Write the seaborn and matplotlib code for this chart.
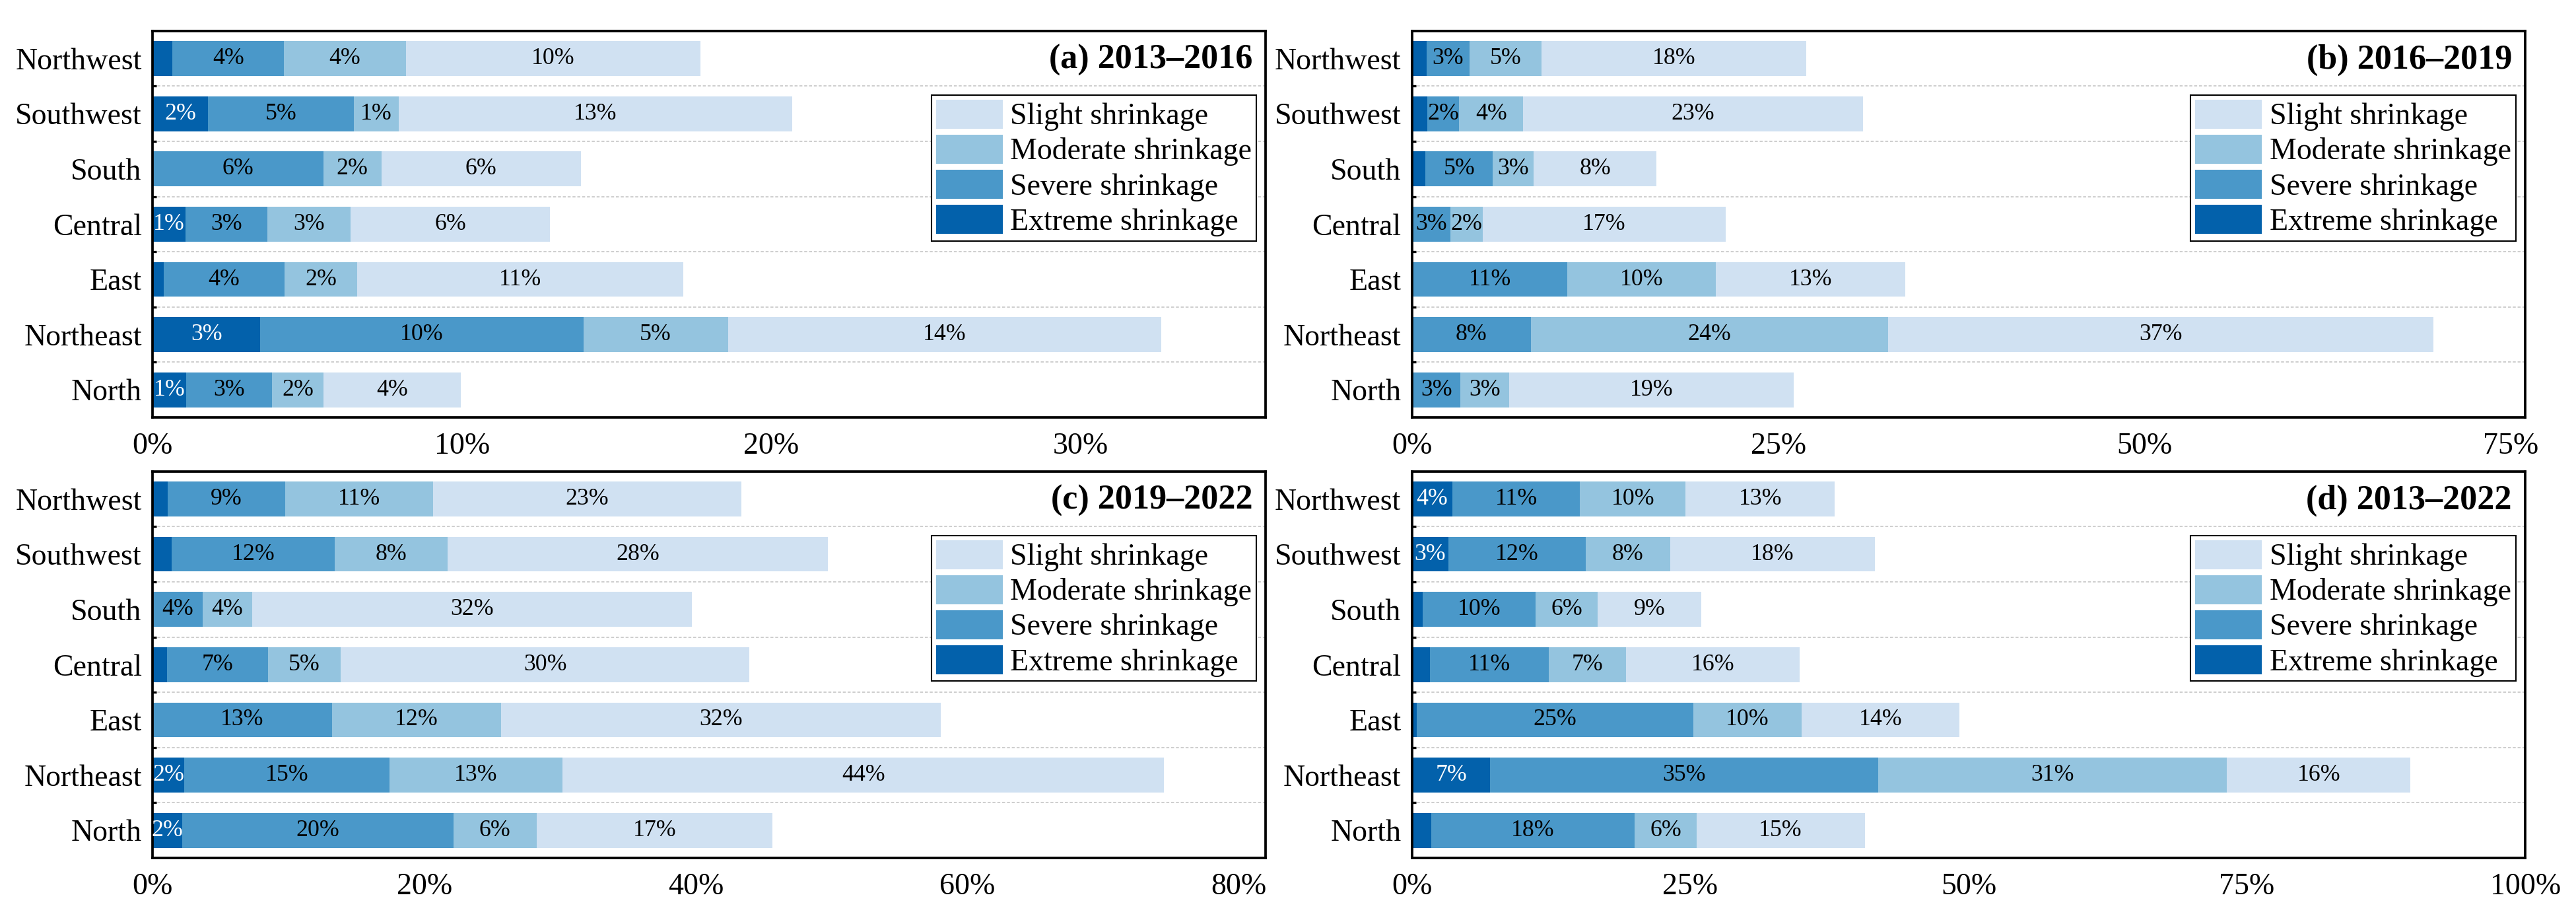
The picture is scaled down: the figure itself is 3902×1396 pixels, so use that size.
import numpy as np
import pandas as pd
import matplotlib
matplotlib.use("Agg")
import matplotlib.pyplot as plt
import seaborn as sns
from matplotlib.patches import Patch
from matplotlib.ticker import FixedLocator

# ---------------- data ----------------
regions = ["Northwest", "Southwest", "South", "Central", "East", "Northeast", "North"]
levels = ["Extreme shrinkage", "Severe shrinkage", "Moderate shrinkage", "Slight shrinkage"]

titles = ["(a) 2013\u20132016", "(b) 2016\u20132019", "(c) 2019\u20132022", "(d) 2013\u20132022"]

# panel (a) 2013–2016 (percent)
a_extreme = [0.64, 1.79, 0.0, 1.05, 0.35, 3.47, 1.09]
a_severe = [3.61, 4.71, 5.52, 2.66, 3.92, 10.46, 2.77]
a_moderate = [3.93, 1.46, 1.87, 2.69, 2.33, 4.67, 1.66]
a_slight = [9.54, 12.72, 6.45, 6.44, 10.55, 14.01, 4.45]

# panel (b) 2016–2019
b_extreme = [0.98, 1.03, 0.92, 0.0, 0.0, 0.0, 0.0]
b_severe = [2.93, 2.19, 4.59, 2.61, 10.6, 8.10, 3.30]
b_moderate = [4.91, 4.36, 2.79, 2.19, 10.15, 24.39, 3.34]
b_slight = [18.10, 23.21, 8.39, 16.63, 12.9, 37.26, 19.4]

# panel (c) 2019–2022
c_extreme = [1.10, 1.40, 0.0, 1.03, 0.0, 2.30, 2.18]
c_severe = [8.65, 11.98, 3.69, 7.45, 13.2, 15.13, 19.98]
c_moderate = [10.89, 8.35, 3.63, 5.38, 12.46, 12.77, 6.11]
c_slight = [22.70, 28.02, 32.4, 30.08, 32.38, 44.3, 17.37]

# panel (d) 2013–2022
d_extreme = [3.62, 3.25, 0.96, 1.62, 0.44, 7.01, 1.70]
d_severe = [11.44, 12.32, 10.11, 10.63, 24.8, 34.84, 18.3]
d_moderate = [9.52, 7.6, 5.61, 6.94, 9.74, 31.36, 5.54]
d_slight = [13.4, 18.4, 9.3, 15.64, 14.17, 16.46, 15.12]

x_max = [36, 76, 82, 100]
x_ticks = [[0, 10, 20, 30], [0, 25, 50, 75], [0, 20, 40, 60, 80], [0, 25, 50, 75, 100]]

panels = [
    (a_extreme, a_severe, a_moderate, a_slight),
    (b_extreme, b_severe, b_moderate, b_slight),
    (c_extreme, c_severe, c_moderate, c_slight),
    (d_extreme, d_severe, d_moderate, d_slight),
]

# ---------------- style ----------------
sns.set_theme(style="white")
plt.rcParams["font.family"] = ["Liberation Serif", "DejaVu Serif"]
plt.rcParams.update({
    "text.color": "black",
    "xtick.color": "black",
    "ytick.color": "black",
    "axes.labelcolor": "black",
    "axes.edgecolor": "black",
})

pal = sns.color_palette("Blues", 4)  # light -> dark
colors = {
    "Slight shrinkage": pal[0],
    "Moderate shrinkage": pal[1],
    "Severe shrinkage": pal[2],
    "Extreme shrinkage": (0.01, 0.38, 0.67),
}

fig, axes = plt.subplots(2, 2, figsize=(3902 / 300, 1396 / 300), dpi=300)
fig.subplots_adjust(left=0.0593, right=0.9803, top=0.9665, bottom=0.0695,
                    wspace=0.1314, hspace=0.1395)

for k, ax in enumerate(axes.flat):
    ext, sev, mod, sli = panels[k]
    df = pd.DataFrame({"region": regions,
                       "Extreme shrinkage": ext,
                       "Severe shrinkage": sev,
                       "Moderate shrinkage": mod,
                       "Slight shrinkage": sli})
    cum = df[levels].cumsum(axis=1)
    # draw largest cumulative first, then overlay
    for lvl in reversed(levels):
        sns.barplot(x=cum[lvl], y=df["region"], order=regions, orient="h",
                    color=colors[lvl], saturation=1, width=0.63,
                    errorbar=None, linewidth=0, edgecolor="none", ax=ax)
    # segment labels
    thr = 0.025 * x_max[k]
    for lvl in levels:
        starts = cum[lvl] - df[lvl]
        for i, (s, v) in enumerate(zip(starts, df[lvl])):
            if v >= thr:
                ax.text(s + v / 2, i, f"{v:.0f}%", ha="center", va="center",
                        fontsize=8.6,
                        color="white" if lvl == "Extreme shrinkage" else "black")

    ax.set_xlim(0, x_max[k])
    ax.set_ylim(len(regions) - 0.5, -0.5)
    ax.set_xticks(x_ticks[k])
    ax.set_xticklabels([f"{t}%" for t in x_ticks[k]])
    ax.set_xlabel("")
    ax.set_ylabel("")

    ax.tick_params(axis="x", which="major", direction="inout", length=7.7,
                   width=0.6, pad=1.5, labelsize=11)
    ax.tick_params(axis="y", which="major", length=0, pad=4, labelsize=11)
    ax.yaxis.set_minor_locator(FixedLocator([i + 0.5 for i in range(len(regions) - 1)]))
    ax.tick_params(axis="y", which="minor", direction="in", length=1.4,
                   width=0.8, left=True, right=False)
    ax.set_axisbelow(True)
    ax.yaxis.grid(True, which="minor", linestyle=(0, (2.4, 1.5)),
                  linewidth=0.45, color="#cccccc")
    ax.yaxis.grid(False, which="major")
    ax.xaxis.grid(False)

    for sp in ax.spines.values():
        sp.set_visible(True)
        sp.set_linewidth(0.9)
        sp.set_color("black")

    ax.text(0.988, 0.925, titles[k], transform=ax.transAxes, ha="right",
            va="center", fontsize=12.5, fontweight="bold")

    handles = [Patch(facecolor=colors[l], edgecolor="none") for l in reversed(levels)]
    leg = ax.legend(handles, list(reversed(levels)), loc="upper right",
                    bbox_to_anchor=(0.9916, 0.834), borderaxespad=0,
                    fontsize=11, frameon=True, fancybox=False,
                    edgecolor="black", framealpha=1, handlelength=2.2,
                    handleheight=1.1, handletextpad=0.26, labelspacing=0.12,
                    borderpad=0.15)
    leg.get_frame().set_linewidth(0.5)

fig.savefig("out.png", dpi=300)
